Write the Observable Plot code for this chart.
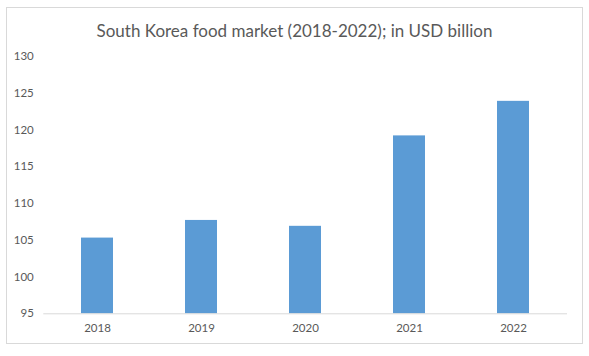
<!DOCTYPE html>
<html>
<head>
<meta charset="utf-8">
<script src="https://cdn.jsdelivr.net/npm/d3@7"></script>
<script src="https://cdn.jsdelivr.net/npm/@observablehq/plot@0.6"></script>
<style>
  html, body { margin: 0; padding: 0; background: #fff; }
  #wrap { position: relative; width: 589px; height: 356px; overflow: hidden; }
  #frame { position: absolute; left: 6px; top: 7px; width: 575px; height: 335px; border: 1px solid #d9d9d9; box-sizing: content-box; }
  #title { position: absolute; left: 0; top: 21px; width: 589px; text-align: center; font-family: Lato, sans-serif; font-size: 17px; line-height: 20px; color: #595959; white-space: nowrap; }
  #chart { position: absolute; left: 0; top: 0; }
</style>
</head>
<body>
<div id="wrap">
  <div id="frame"></div>
  <div id="title">South Korea food market (2018-2022); in USD billion</div>
  <div id="chart"></div>
</div>
<script>
const years = ["2018", "2019", "2020", "2021", "2022"];
const values = [105.3, 107.7, 106.9, 119.2, 123.9];
const yTicks = [95, 100, 105, 110, 115, 120, 125, 130];
const yMin = 95;
const yMax = 130;

const data = years.map((y, i) => ({year: y, value: values[i]}));

const chart = Plot.plot({
  width: 589,
  height: 356,
  marginLeft: 43.3,
  marginRight: 22,
  marginTop: 56,
  marginBottom: 42.7,
  style: {fontFamily: "Lato, sans-serif", fontSize: "11.5px", color: "#595959", background: "transparent"},
  x: {domain: years, paddingInner: 0.688, paddingOuter: 0.344, label: null},
  y: {domain: [yMin, yMax], label: null},
  marks: [
    Plot.barY(data, {x: "year", y1: yMin, y2: "value", fill: "#5b9bd5"}),
    Plot.ruleY([yMin], {stroke: "#d9d9d9", strokeWidth: 1}),
    Plot.axisY({ticks: yTicks, tickSize: 0, tickPadding: 10, label: null, fill: "#595959"}),
    Plot.axisX({tickSize: 0, tickPadding: 10, label: null, fill: "#595959"})
  ]
});
document.getElementById("chart").appendChild(chart);
</script>
</body>
</html>
